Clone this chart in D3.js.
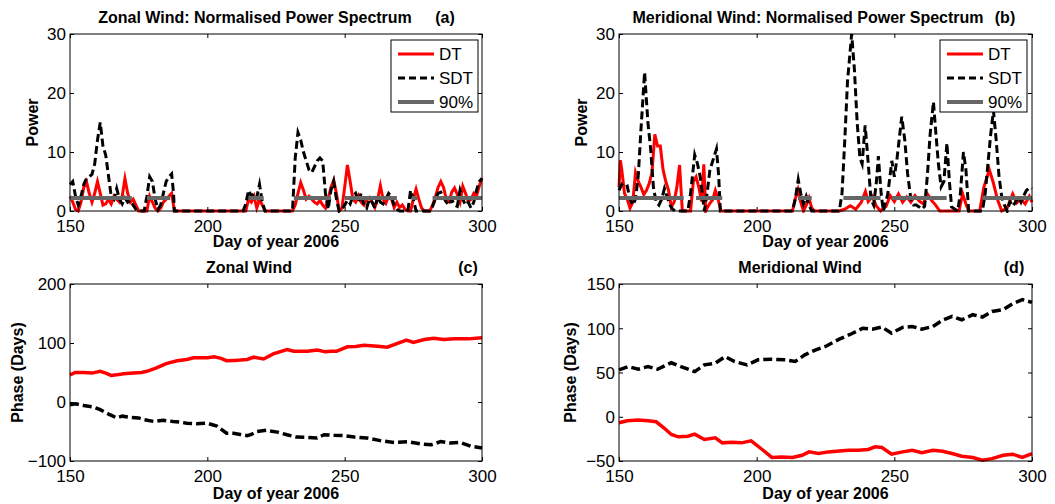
<!DOCTYPE html>
<html><head><meta charset="utf-8">
<script src="https://cdn.jsdelivr.net/npm/d3@7/dist/d3.min.js"></script>
<style>
body{margin:0;background:#fff;}
svg{display:block;font-family:"Liberation Sans",Arial,Helvetica,sans-serif;}
</style></head><body>
<svg id="chart" width="1055" height="504"></svg>
<script>
// ---------------- data ----------------
const xTicks = [150, 200, 250, 300];
const powerTicks = [0, 10, 20, 30];
const zonalPhaseTicks = [-100, 0, 100, 200];
const meridPhaseTicks = [-50, 0, 50, 100, 150];
const legendLabels = ["DT", "SDT", "90%"];
const p90Level = 2.2;

const zonalDT = [[150,2.5],[151,1.5],[152,0.3],[153,0],[154,1.5],[155,4],[156,5],[157,3],[158,1.5],[159,3],[160,5],[161,3],[162,1],[163,1.2],[164,2],[165,1.2],[166,2.5],[167,2],[168,1.5],[169,2.5],[170,5.5],[171,3],[172,1.5],[173,2],[174,1],[175,0],[178,0],[179,2.5],[180,1.5],[181,0.5],[182,0],[183,0.5],[184,1.5],[185,2],[186,2.5],[187,3],[188,0],[214,0],[215,2],[216,1.5],[217,2.5],[218,0.5],[219,2],[220,1],[221,0],[231,0],[232,1],[233,3],[234,4.8],[235,3.5],[236,2],[237,2.5],[238,2],[239,1.5],[240,1.2],[241,1.8],[242,1],[243,0.5],[244,2],[245,4],[246,5.2],[247,3],[248,0],[249,0.5],[250,4],[251,7.8],[252,5],[253,2],[254,1.5],[255,2.6],[256,1.5],[257,1],[258,2],[259,2.3],[260,1.5],[261,0.6],[262,2],[263,4.3],[264,2],[265,1.3],[266,2.5],[267,2.1],[268,0.6],[269,1.5],[270,0.6],[271,1],[272,0.3],[273,0],[274,0],[275,2],[276,3.7],[277,2],[278,0.5],[279,0],[281,0],[282,1],[283,2.3],[284,4],[285,5],[286,4],[287,2],[288,1.6],[289,3.2],[290,3.9],[291,2.8],[292,1.5],[293,4.2],[294,3],[295,1.6],[296,2],[297,3],[298,2.5],[299,4.2],[300,5.6]];
const zonalSDT = [[150,4.5],[151,5],[152,2.5],[153,1],[154,2.5],[155,4.5],[156,5.5],[157,5.8],[158,6.2],[159,8],[160,12],[161,15],[162,11],[163,9.5],[164,6],[165,2.5],[166,2],[167,3.8],[168,2],[169,1.2],[170,2.2],[171,1.5],[172,1.8],[173,1],[174,0.3],[175,0],[177,0],[178,2.5],[179,5.8],[180,5],[181,2],[182,0.3],[183,1],[184,3],[185,5],[186,5.8],[187,6.3],[187.7,3],[188,0],[213,0],[214,1.2],[215,3.5],[216,2.5],[217,3],[218,2.3],[219,4.5],[220,1.5],[221,0],[231,0],[232,9],[233,13.3],[234,12],[235,10],[236,8.5],[237,7],[238,6.5],[239,7.5],[240,8.5],[241,9],[242,8.5],[243,3],[244,0.3],[245,3.5],[246,5],[247,2],[248,0],[249,0.3],[250,1],[251,1.8],[252,1.2],[253,2.5],[254,3],[255,1.5],[256,3],[257,1],[258,0.5],[259,2],[260,1.5],[261,0.5],[262,2.5],[263,1.5],[264,1.2],[265,2],[266,3],[267,2.5],[268,1],[269,0.3],[270,0],[273,0],[274,3.5],[275,2],[276,0],[281,0],[282,0.8],[283,2],[284,3],[285,3.2],[286,2.3],[287,1.5],[288,1],[289,2],[290,1],[291,0.8],[292,3.5],[293,2],[294,1],[295,1.5],[296,0.5],[297,1.5],[298,3.5],[299,5],[300,5.5]];
const zonal90 = [[150,172.5],[178,186.5],[215,220.5],[231.5,245],[250,269],[274.5,276.5],[282,300]];

const meridDT = [[150,4],[150.5,8.6],[151,7],[152,3],[153,2],[154,0.5],[155,1.5],[156,6.5],[157,5],[158,4],[159,2.8],[160,3.5],[161,4.7],[162,6.6],[163,13],[164,11],[165,11],[166,7],[167,5],[168,3.5],[169,0.7],[170,1.5],[171,4],[172,7.8],[173,0],[176,0],[177,5],[178,5.8],[179,4],[180,1.6],[180.8,7.9],[181.5,0],[182,0.5],[183,1.3],[184,1.9],[185,3.5],[186,2],[187,0],[213,0],[214,2],[215,3.6],[216,1.5],[217,0],[218,1],[219,2.2],[220,0.5],[221,0],[230,0],[232,0.3],[234,0.9],[236,0.3],[238,1.5],[239.5,3.3],[240.5,1.6],[242,2.5],[243.5,0.8],[245,0],[247,0.8],[248.5,2.6],[250,1.6],[251.5,2.9],[253,1.5],[254.5,2.4],[256,1.5],[257.5,2.6],[259,1.7],[260.5,1.2],[262,2.9],[263.5,1.8],[265,1],[266.5,0],[273.5,0],[274.8,2.9],[276,1.2],[277,0],[281,0],[282.5,4],[284.5,7],[286,4.7],[287.5,1.9],[289,0],[291,0.5],[293,2.9],[294.5,1.4],[296,2],[297.5,1.2],[299,2.5],[300,1.5]];
const meridSDT = [[150,3.5],[151,4.5],[152,4],[153,4.2],[154,2],[155,1],[156,2],[157,6],[158,14],[159.3,23.5],[160.5,15],[161.5,10.5],[162.5,4],[163.5,1.5],[164.5,1],[165.5,2],[166.5,3.8],[167.5,2.4],[168.5,1],[169.5,0.3],[170.5,0],[175,0],[176,3],[177.5,9.5],[178.5,8],[179.5,5.8],[180.5,2],[181,0],[182,3],[183,6.9],[185.4,10.5],[186.2,6],[186.8,0],[213,0],[214,2],[215.1,5.3],[216,3],[217,1.2],[218,2.5],[219,1],[220,0],[230,0],[231,3],[232,12],[233,22],[234.5,30],[235.5,24],[236.5,15],[237.5,9],[238.3,8],[239.4,14.5],[240.2,10],[241.5,2],[242.5,1],[243.5,5],[244.2,9.3],[245.2,3],[246,0],[246.8,1.5],[247.6,2.8],[249.1,8.5],[250,5.8],[251,9],[252.7,16],[253.8,12],[254.8,6.4],[256,2],[257,1],[258,1],[259,0.7],[260,0.3],[261,0.8],[262,6],[263,13],[264.2,18.5],[265,13.7],[266,8],[267,4.1],[268,5],[269.1,11.5],[270,5],[270.8,0.7],[272,0.3],[273,0],[274,3],[275.1,10],[276,7],[277,0],[282,0],[283,3],[284,8],[285,13],[286,17],[287,12],[288,6],[289,2.4],[290,1],[291,0],[292,1.6],[293,0.8],[294,1.5],[295,2.5],[296,1.5],[297,2.6],[298,3.5],[299.4,4],[300,3.8]];
const merid90 = [[150,173.5],[178,187.5],[215,220],[231.5,245],[249,269],[282,300]];

const zonalPhaseDT = [[150,46],[152,50],[155,50],[158,49],[161,52],[163,49],[165,45],[167,46],[169.5,48],[173,49],[176,50],[178,52],[181.5,58],[185,65],[189,70],[192.5,72],[195,75],[200,75],[202.5,76.5],[205,74],[207,70],[210,70.5],[212,71],[214.5,72],[217,76],[220.5,73],[224,81.5],[229,89],[231.5,86],[236.5,86],[240,88],[243,85],[245,86],[247,86],[251,93.5],[254,94],[257,96],[262,94.5],[265.5,93],[269,99],[272.5,105],[275,101],[279,106],[282.5,108],[286,106],[290,107],[295,107],[300,109]];
const zonalPhaseSDT = [[150,-4.5],[152,-3],[155,-6],[158.5,-8.5],[161,-13],[164.5,-21.5],[167,-27],[169,-24],[172,-26],[175,-27],[177,-30],[180.5,-33],[184,-31],[187.5,-33],[190,-34],[192.5,-36],[196,-37],[200,-36],[203.5,-41],[207,-53],[209.5,-53],[212,-55],[214.5,-57],[216,-55],[218,-50],[221.5,-48],[225.5,-51],[229,-55.5],[232.5,-59.5],[236.5,-60],[240,-61],[242.5,-55.5],[246,-56.5],[249.5,-57],[253.5,-59.5],[258,-61],[263,-65.5],[268,-68.5],[273,-67.5],[277.5,-71],[281.5,-72.5],[285,-67],[288.5,-69.5],[292,-68.5],[296,-75],[300,-78]];
const meridPhaseDT = [[150,-6.8],[153,-4.5],[157,-3.8],[160.5,-4.5],[163.5,-5.7],[166.5,-13],[169,-20],[171.5,-22.7],[175,-22],[177.5,-19.7],[181,-25.7],[185,-23.8],[187.5,-29.5],[191,-28.7],[194.5,-29.5],[198,-27.2],[202,-37],[205.5,-46],[209,-45.4],[213,-46],[216.5,-43.5],[219,-39.7],[222.5,-41.6],[226,-39.7],[230,-38.6],[233.5,-37.8],[237,-37.8],[240.5,-37],[243,-34],[245.5,-34.8],[249,-42.3],[253,-39.7],[256.5,-37.8],[260,-40.5],[264,-37.8],[267.5,-38.9],[271,-41.6],[274.5,-44.6],[278.5,-46.1],[282,-49.1],[285.5,-47.3],[289.5,-43.5],[293,-42.3],[296.5,-46],[300,-41.6]];
const meridPhaseSDT = [[150,53],[153.3,56.7],[157,53.7],[160.5,56.7],[164,53.7],[169,61],[172.5,56.7],[177.5,51],[181,58.6],[185,60.5],[188.5,68],[192,62.4],[196.5,58.6],[200.5,64.3],[205.5,65],[210.5,64.3],[214,62.4],[217.5,70],[221.5,75.6],[225,79.4],[230,87.7],[234.5,93.8],[238.5,100],[242,99],[245.5,101.3],[249,94.5],[253,101],[256.5,102],[260,99],[264,102],[267.5,109],[271,113.4],[274.5,109.6],[278.5,115.3],[282,112.7],[285.5,119],[289.5,121],[293,127.8],[296.5,132.3],[300,129.3]];

// ---------------- drawing ----------------
const svg = d3.select('#chart');
const RED = '#ff0000', BLACK = '#000000', GRAY = '#666666';
const DASH = '8,4';

function drawPanel(c, idx) {
  const g = svg.append('g').attr('transform', `translate(${c.left},${c.top})`);
  const x = d3.scaleLinear().domain([150, 300]).range([0, c.width]);
  const y = d3.scaleLinear().domain(c.yDomain).range([c.height, 0]);
  const clipId = 'clip' + idx;
  g.append('clipPath').attr('id', clipId).append('rect')
    .attr('x', -2).attr('y', -2).attr('width', c.width + 4).attr('height', c.height + 4);

  // axes with inward ticks on all sides
  const fmt = d3.format('d');
  const bottom = g.append('g').attr('transform', `translate(0,${c.height})`)
    .call(d3.axisBottom(x).tickValues(xTicks).tickFormat(fmt).tickSizeInner(-4).tickSizeOuter(0).tickPadding(9));
  const top = g.append('g').call(d3.axisTop(x).tickValues(xTicks).tickFormat('').tickSizeInner(-4).tickSizeOuter(0));
  const left = g.append('g').call(d3.axisLeft(y).tickValues(c.yTicks).tickFormat(fmt).tickSizeInner(-4).tickSizeOuter(0).tickPadding(4));
  const right = g.append('g').attr('transform', `translate(${c.width},0)`)
    .call(d3.axisRight(y).tickValues(c.yTicks).tickFormat('').tickSizeInner(-4).tickSizeOuter(0));
  [bottom, top, left, right].forEach(a => {
    a.select('.domain').remove();
    a.selectAll('line').attr('stroke', '#000').attr('stroke-width', 1);
    a.selectAll('text').attr('font-size', 17).attr('fill', '#000')
      .attr('font-family', '"Liberation Sans",Arial,sans-serif');
  });
  left.selectAll('text').attr('dy', '0.34em');

  const line = d3.line().x(d => x(d[0])).y(d => y(d[1]));
  const plot = g.append('g').attr('clip-path', `url(#${clipId})`);
  c.series.forEach(s => {
    plot.append('path').datum(s.data).attr('d', line)
      .attr('fill', 'none').attr('stroke', s.color).attr('stroke-width', s.width)
      .attr('stroke-dasharray', s.dash || null).attr('stroke-linejoin', 'miter').attr('stroke-miterlimit', 6);
  });
  if (c.p90) {
    plot.selectAll('line.p90').data(c.p90).enter().append('line')
      .attr('x1', d => x(d[0])).attr('x2', d => x(d[1]))
      .attr('y1', y(p90Level)).attr('y2', y(p90Level))
      .attr('stroke', GRAY).attr('stroke-width', 4);
  }

  // box
  g.append('rect').attr('width', c.width).attr('height', c.height)
    .attr('fill', 'none').attr('stroke', '#000').attr('stroke-width', 1);

  // titles
  g.append('text').attr('x', c.titleX - c.left).attr('y', -11).attr('text-anchor', 'middle')
    .attr('font-size', 16).attr('font-weight', 'bold').text(c.title);
  g.append('text').attr('x', c.tagX - c.left).attr('y', -11).attr('text-anchor', 'middle')
    .attr('font-size', 16).attr('font-weight', 'bold').text(c.tag);
  g.append('text').attr('x', c.width / 2).attr('y', c.height + c.xlabelOff).attr('text-anchor', 'middle')
    .attr('font-size', 16).attr('font-weight', 'bold').text('Day of year 2006');
  g.append('text').attr('transform', `translate(${c.ylabelX - c.left},${c.height / 2}) rotate(-90)`)
    .attr('text-anchor', 'middle').attr('dy', '0.36em')
    .attr('font-size', 16).attr('font-weight', 'bold').text(c.ylabel);

  if (c.legend) {
    const L = c.legend;
    const lg = svg.append('g').attr('transform', `translate(${L.x},${L.y})`);
    lg.append('rect').attr('width', L.w).attr('height', 72).attr('fill', '#fff').attr('stroke', '#000').attr('stroke-width', 1);
    const styles = [{color: RED, dash: null, w: 3}, {color: BLACK, dash: '7,4', w: 3}, {color: GRAY, dash: null, w: 4}];
    legendLabels.forEach((lab, i) => {
      const yy = 14 + i * 24;
      lg.append('line').attr('x1', 7).attr('x2', 43).attr('y1', yy).attr('y2', yy)
        .attr('stroke', styles[i].color).attr('stroke-width', styles[i].w).attr('stroke-dasharray', styles[i].dash);
      lg.append('text').attr('x', 48).attr('y', yy).attr('dy', '0.36em').attr('font-size', 17).text(lab);
    });
  }
}

const panels = [
  {left: 70, top: 34, width: 412, height: 177, yDomain: [0, 30], yTicks: powerTicks,
   title: 'Zonal Wind: Normalised Power Spectrum', titleX: 255, tag: '(a)', tagX: 445,
   ylabel: 'Power', ylabelX: 32, xlabelOff: 36,
   series: [{data: zonalDT, color: RED, width: 3}, {data: zonalSDT, color: BLACK, width: 3, dash: DASH}],
   p90: zonal90, legend: {x: 391, y: 40, w: 87}},
  {left: 619, top: 34, width: 413, height: 177, yDomain: [0, 30], yTicks: powerTicks,
   title: 'Meridional Wind: Normalised Power Spectrum', titleX: 808, tag: '(b)', tagX: 1005,
   ylabel: 'Power', ylabelX: 581, xlabelOff: 36,
   series: [{data: meridDT, color: RED, width: 3}, {data: meridSDT, color: BLACK, width: 3, dash: DASH}],
   p90: merid90, legend: {x: 940, y: 40, w: 87}},
  {left: 70, top: 284, width: 412, height: 177, yDomain: [-100, 200], yTicks: zonalPhaseTicks,
   title: 'Zonal Wind', titleX: 249, tag: '(c)', tagX: 468,
   ylabel: 'Phase (Days)', ylabelX: 17, xlabelOff: 38,
   series: [{data: zonalPhaseDT, color: RED, width: 3.5}, {data: zonalPhaseSDT, color: BLACK, width: 3.5, dash: '9,4'}]},
  {left: 619, top: 284, width: 413, height: 177, yDomain: [-50, 150], yTicks: meridPhaseTicks,
   title: 'Meridional Wind', titleX: 800, tag: '(d)', tagX: 1014,
   ylabel: 'Phase (Days)', ylabelX: 570, xlabelOff: 38,
   series: [{data: meridPhaseDT, color: RED, width: 3.5}, {data: meridPhaseSDT, color: BLACK, width: 3.5, dash: '9,4'}]}
];
panels.forEach(drawPanel);
</script>
</body></html>
